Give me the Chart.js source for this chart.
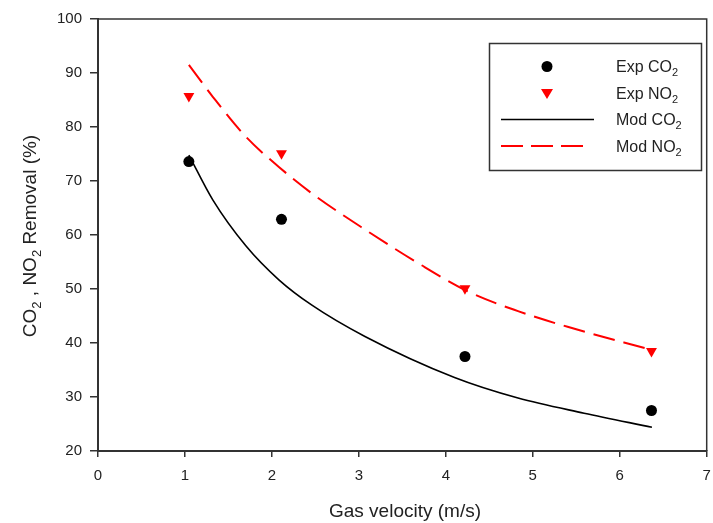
<!DOCTYPE html>
<html>
<head>
<meta charset="utf-8">
<script src="https://cdn.jsdelivr.net/npm/chart.js@4"></script>
<style>
  body { margin: 0; background: #fff; }
  canvas { display: block; }
</style>
</head>
<body>
<canvas id="chart" width="713" height="523"></canvas>
<script>
// measured points (gas velocity, m/s)
const expX = [1.045, 2.11, 4.22, 6.365];
const expCO2 = [73.6, 62.9, 37.5, 27.5];
const expNO2 = [85.7, 75.1, 50.1, 38.5];

// model curves
const modCO2X = [1.045, 1.32, 1.70, 2.08, 2.46, 3.07, 4.10, 4.83, 5.59, 6.37];
const modCO2 = [74.8, 66.5, 58.0, 51.7, 47.0, 41.2, 33.6, 29.8, 27.0, 24.4];
const modNO2X = [1.045, 1.32, 1.70, 2.08, 2.46, 3.11, 3.68, 4.26, 4.83, 5.40, 6.37];
const modNO2 = [91.5, 85.6, 78.2, 72.6, 67.7, 60.6, 54.8, 49.5, 45.9, 43.0, 38.7];

const xTicks = [0, 1, 2, 3, 4, 5, 6, 7];
const yTicks = [20, 30, 40, 50, 60, 70, 80, 90, 100];

const FONT = "'Liberation Sans', Arial, sans-serif";
const AXIS = "#333";

const pts = (xs, ys) => xs.map((x, i) => ({ x: x, y: ys[i] }));

// text with subscripts: parts = [[text, isSub], ...]
function drawRich(ctx, parts, x, y, size) {
  let cx = x;
  parts.forEach(([t, sub]) => {
    ctx.font = (sub ? Math.round(size * 0.68) : size) + "px " + FONT;
    ctx.fillText(t, cx, sub ? y + size * 0.25 : y);
    cx += ctx.measureText(t).width;
  });
  return cx - x;
}
function richWidth(ctx, parts, size) {
  let w = 0;
  parts.forEach(([t, sub]) => {
    ctx.font = (sub ? Math.round(size * 0.68) : size) + "px " + FONT;
    w += ctx.measureText(t).width;
  });
  return w;
}

const decorations = {
  id: "decorations",
  afterDraw(chart) {
    const ctx = chart.ctx;
    const a = chart.chartArea;
    ctx.save();

    // frame top + right
    ctx.strokeStyle = AXIS;
    ctx.lineWidth = 1.5;
    ctx.beginPath();
    ctx.moveTo(a.left, a.top);
    ctx.lineTo(a.right, a.top);
    ctx.lineTo(a.right, a.bottom);
    ctx.stroke();

    // axis titles
    ctx.fillStyle = "#222";
    ctx.textBaseline = "alphabetic";
    ctx.font = "19px " + FONT;
    ctx.textAlign = "center";
    ctx.fillText("Gas velocity (m/s)", 405, 517);

    ctx.textAlign = "left";
    const yTitle = [["CO", false], ["2", true], [" , NO", false], ["2", true], [" Removal (%)", false]];
    const yw = richWidth(ctx, yTitle, 19);
    ctx.save();
    ctx.translate(36, 236);
    ctx.rotate(-Math.PI / 2);
    drawRich(ctx, yTitle, -yw / 2, 0, 19);
    ctx.restore();

    // legend
    ctx.strokeStyle = AXIS;
    ctx.lineWidth = 1.5;
    ctx.strokeRect(489.5, 43.5, 212, 127);

    const rows = [66.5, 93, 119.5, 146];
    const mx = 547;
    ctx.fillStyle = "#000";
    ctx.beginPath();
    ctx.arc(mx, rows[0], 5.5, 0, Math.PI * 2);
    ctx.fill();

    ctx.fillStyle = "#ff0000";
    ctx.beginPath();
    ctx.moveTo(mx - 6, rows[1] - 4);
    ctx.lineTo(mx + 6, rows[1] - 4);
    ctx.lineTo(mx, rows[1] + 6);
    ctx.closePath();
    ctx.fill();

    ctx.strokeStyle = "#000";
    ctx.lineWidth = 1.5;
    ctx.beginPath();
    ctx.moveTo(501, rows[2]);
    ctx.lineTo(594, rows[2]);
    ctx.stroke();

    ctx.strokeStyle = "#ff0000";
    ctx.lineWidth = 2;
    ctx.setLineDash([22, 8]);
    ctx.beginPath();
    ctx.moveTo(501, rows[3]);
    ctx.lineTo(585, rows[3]);
    ctx.stroke();
    ctx.setLineDash([]);

    const labels = [["Exp CO", "2"], ["Exp NO", "2"], ["Mod CO", "2"], ["Mod NO", "2"]];
    ctx.fillStyle = "#222";
    labels.forEach((l, i) => {
      drawRich(ctx, [[l[0], false], [l[1], true]], 616, rows[i] + 5.5, 16);
    });

    ctx.restore();
  }
};

new Chart(document.getElementById("chart"), {
  type: "scatter",
  data: {
    datasets: [
      {
        label: "Exp CO2",
        data: pts(expX, expCO2),
        pointStyle: "circle",
        pointRadius: 5.5,
        backgroundColor: "#000",
        borderColor: "#000",
        borderWidth: 0
      },
      {
        label: "Exp NO2",
        data: pts(expX, expNO2),
        pointStyle: "triangle",
        rotation: 180,
        pointRadius: 6.3,
        backgroundColor: "#ff0000",
        borderColor: "#ff0000",
        borderWidth: 0
      },
      {
        label: "Mod CO2",
        data: pts(modCO2X, modCO2),
        showLine: true,
        pointRadius: 0,
        borderColor: "#000",
        borderWidth: 1.6,
        cubicInterpolationMode: "monotone"
      },
      {
        label: "Mod NO2",
        data: pts(modNO2X, modNO2),
        showLine: true,
        pointRadius: 0,
        borderColor: "#ff0000",
        borderWidth: 2,
        borderDash: [22, 9],
        cubicInterpolationMode: "monotone"
      }
    ]
  },
  options: {
    responsive: false,
    animation: false,
    layout: { padding: { top: 19, right: 3, left: 0, bottom: 0 } },
    plugins: { legend: { display: false }, tooltip: { enabled: false } },
    scales: {
      x: {
        type: "linear",
        min: xTicks[0],
        max: xTicks[xTicks.length - 1],
        afterBuildTicks: s => { s.ticks = xTicks.map(v => ({ value: v })); },
        afterFit: s => { s.height = 72; s.paddingLeft = 0; s.paddingRight = 0; },
        ticks: { color: "#222", font: { family: FONT, size: 15 }, padding: 10, maxRotation: 0 },
        grid: { drawOnChartArea: false, drawTicks: true, tickLength: 6, color: AXIS, lineWidth: 1.5 },
        border: { display: true, color: AXIS, width: 2 }
      },
      y: {
        type: "linear",
        min: yTicks[0],
        max: yTicks[yTicks.length - 1],
        afterBuildTicks: s => { s.ticks = yTicks.map(v => ({ value: v })); },
        afterFit: s => { s.width = 98; s.paddingTop = 0; s.paddingBottom = 0; },
        ticks: { color: "#222", font: { family: FONT, size: 15 }, padding: 8 },
        grid: { drawOnChartArea: false, drawTicks: true, tickLength: 8, color: AXIS, lineWidth: 1.5 },
        border: { display: true, color: AXIS, width: 2 }
      }
    }
  },
  plugins: [decorations]
});
</script>
</body>
</html>
